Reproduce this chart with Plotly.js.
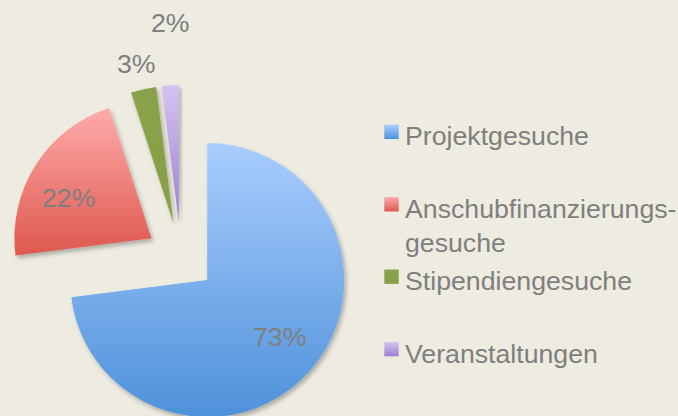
<!DOCTYPE html>
<html>
<head>
<meta charset="utf-8">
<script src="https://cdn.plot.ly/plotly-3.0.1.min.js"></script>
<style>
html, body { margin: 0; padding: 0; background: #EEECE1; overflow: hidden; }
#chart { width: 678px; height: 450px; }
</style>
</head>
<body>
<div id="chart"></div>
<script>
// Data
const categories = ['Projektgesuche', 'Anschubfinanzierungs-gesuche', 'Stipendiengesuche', 'Veranstaltungen'];
const shares = [73, 22, 3, 2];
const legendLabels = ['Projektgesuche<br> ', 'Anschubfinanzierungs-<br>gesuche', 'Stipendiengesuche<br> ', 'Veranstaltungen'];

const baseColors = ['#7AAEEC', '#F08078', '#889F48', '#B9A2E0'];
const gradStops = [
  ['#A9CDFE', '#4E91DA'],
  ['#FFABAB', '#DE584E'],
  ['#8AA24B', '#86A047'],
  ['#D5C3F3', '#9B80CF']
];

const W = 678, H = 450;
const FONT = 'Liberation Sans, Arial, sans-serif';
const FS = 26.7;

// label anchor points (pixels) for the percentage labels
const labelPos = [[279, 337], [68.5, 198], [136, 64.5], [170, 22.5]];

const total = shares.reduce(function (a, b) { return a + b; }, 0);
const annotations = shares.map(function (v, i) {
  return {
    text: Math.round(100 * v / total) + '%',
    xref: 'paper', yref: 'paper',
    x: labelPos[i][0] / W, y: 1 - labelPos[i][1] / H,
    xanchor: 'center', yanchor: 'middle',
    showarrow: false,
    font: { family: FONT, size: FS, color: '#7F7F7F' }
  };
});

const trace = {
  type: 'pie',
  labels: legendLabels,
  values: shares,
  sort: false,
  direction: 'clockwise',
  rotation: 0,
  pull: [0.255, 0.255, 0.255, 0.255],
  marker: { colors: baseColors, line: { width: 0 } },
  textinfo: 'none',
  domain: { x: [9 / W, 353 / W], y: [(H - 429) / H, (H - 85) / H] },
  hoverinfo: 'label+percent'
};

const layout = {
  width: W,
  height: H,
  margin: { l: 0, r: 0, t: 0, b: 0, autoexpand: false },
  paper_bgcolor: '#EEECE1',
  plot_bgcolor: '#EEECE1',
  showlegend: true,
  legend: {
    x: 365 / W,
    xanchor: 'left',
    y: 1 - 111 / H,
    yanchor: 'top',
    valign: 'top',
    bgcolor: 'rgba(0,0,0,0)',
    font: { family: FONT, size: FS, color: '#7F7F7F' }
  },
  annotations: annotations,
  font: { family: FONT }
};

Plotly.newPlot('chart', [trace], layout, { displayModeBar: false, staticPlot: true }).then(function (gd) {
  const svgNS = 'http://www.w3.org/2000/svg';
  const svg = gd.querySelector('svg.main-svg');
  let defs = svg.querySelector('defs');
  if (!defs) { defs = document.createElementNS(svgNS, 'defs'); svg.insertBefore(defs, svg.firstChild); }
  gradStops.forEach(function (stops, i) {
    const g = document.createElementNS(svgNS, 'linearGradient');
    g.setAttribute('id', 'sliceGrad' + i);
    g.setAttribute('x1', '0'); g.setAttribute('y1', '0');
    g.setAttribute('x2', '0'); g.setAttribute('y2', '1');
    stops.forEach(function (c, k) {
      const s = document.createElementNS(svgNS, 'stop');
      s.setAttribute('offset', k === 0 ? '0' : '1');
      s.setAttribute('stop-color', c);
      g.appendChild(s);
    });
    defs.appendChild(g);
  });
  const f = document.createElementNS(svgNS, 'filter');
  f.setAttribute('id', 'sliceShadow');
  f.setAttribute('x', '-20%'); f.setAttribute('y', '-20%');
  f.setAttribute('width', '140%'); f.setAttribute('height', '140%');
  const ds = document.createElementNS(svgNS, 'feDropShadow');
  ds.setAttribute('dx', '2'); ds.setAttribute('dy', '3');
  ds.setAttribute('stdDeviation', '2');
  ds.setAttribute('flood-color', '#000');
  ds.setAttribute('flood-opacity', '0.28');
  f.appendChild(ds);
  defs.appendChild(f);

  gd.querySelectorAll('g.slice').forEach(function (s, i) {
    const p = s.querySelector('path.surface');
    if (p) {
      p.style.fill = 'url(#sliceGrad' + i + ')';
      p.setAttribute('filter', 'url(#sliceShadow)');
    }
  });
  gd.querySelectorAll('g.legend g.traces').forEach(function (t, i) {
    const p = t.querySelector('path.legendpie');
    if (p) {
      p.style.fill = 'url(#sliceGrad' + i + ')';
      const tr = p.getAttribute('transform') || '';
      p.setAttribute('transform', tr + ' translate(6.5,-3) scale(1.2)');
    }
  });
});
</script>
</body>
</html>
